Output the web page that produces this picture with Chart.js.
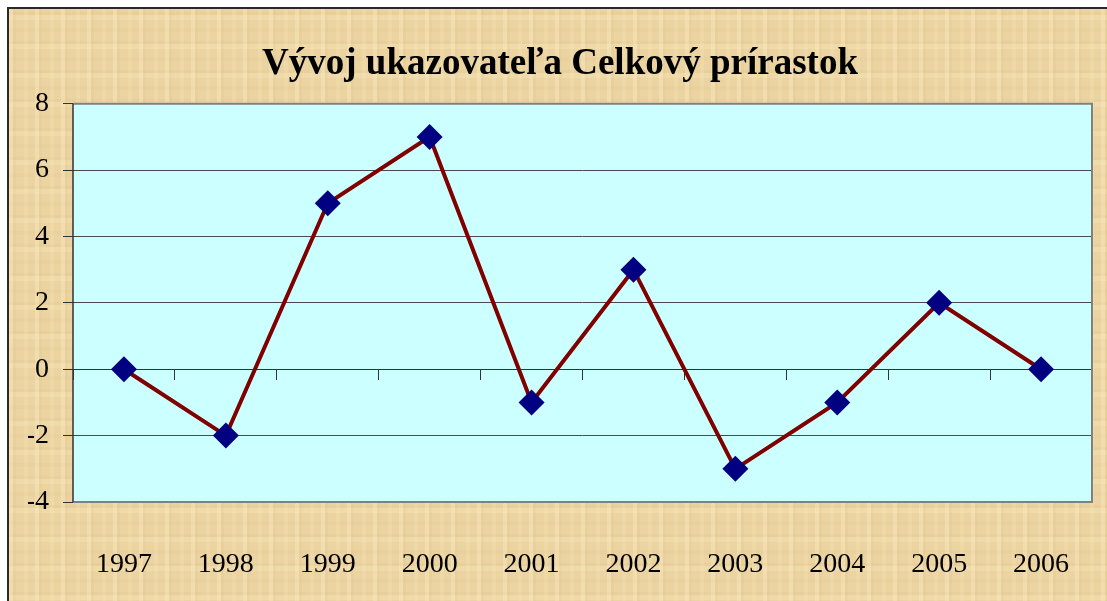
<!DOCTYPE html>
<html lang="sk">
<head>
    <meta charset="UTF-8">
    <title>Vývoj ukazovateľa Celkový prírastok</title>
    <script src="https://cdn.jsdelivr.net/npm/chart.js"></script>
    <style>
        body {
            margin: 0;
            background: #ffffff;
        }
        .wrap {
            position: relative;
            width: 1107px;
            height: 601px;
            overflow: hidden;
        }
        .paper {
            position: absolute;
            left: 7px;
            top: 7px;
            width: 1120px;
            height: 620px;
            border-left: 2px solid #2a2a2a;
            border-top: 2px solid #2a2a2a;
            background-color: #ebd4a2;
            background-image:
                repeating-linear-gradient(90deg, rgba(255,240,200,0.3) 0 4px, rgba(200,160,100,0.08) 4px 7px, transparent 7px 15px, rgba(255,236,190,0.18) 15px 19px, transparent 19px 26px),
                repeating-linear-gradient(0deg, rgba(255,240,200,0.2) 0 5px, rgba(190,150,90,0.07) 5px 8px, transparent 8px 17px, rgba(210,170,110,0.07) 17px 21px, transparent 21px 29px);
        }
        canvas {
            position: absolute;
            left: 0;
            top: 0;
        }
    </style>
</head>
<body>
    <div class="wrap">
        <div class="paper"></div>
        <canvas id="chart" width="1107" height="601"></canvas>
    </div>

    <script>
        const years = ['1997', '1998', '1999', '2000', '2001', '2002', '2003', '2004', '2005', '2006'];
        const prirastok = [0, -2, 5, 7, -1, 3, -3, -1, 2, 0];
        const yMin = -4;
        const yMax = 8;
        const yStep = 2;

        const serif = "'Liberation Serif', 'DejaVu Serif', serif";

        // cyan plot area + gray frame like the old Excel chart
        const plotArea = {
            id: 'plotArea',
            beforeDraw(chart) {
                const a = chart.chartArea;
                const ctx = chart.ctx;
                ctx.save();
                ctx.fillStyle = '#ccffff';
                ctx.fillRect(a.left, a.top, a.right - a.left, a.bottom - a.top);
                ctx.restore();
            },
            beforeDatasetsDraw(chart) {
                const a = chart.chartArea;
                const ctx = chart.ctx;
                ctx.save();
                ctx.strokeStyle = '#808080';
                ctx.lineWidth = 2;
                ctx.beginPath();
                ctx.moveTo(a.left, a.top);
                ctx.lineTo(a.right, a.top);
                ctx.lineTo(a.right, a.bottom);
                ctx.lineTo(a.left, a.bottom);
                ctx.stroke();
                ctx.strokeStyle = '#333333';
                ctx.lineWidth = 1.5;
                ctx.beginPath();
                ctx.moveTo(a.left, a.top);
                ctx.lineTo(a.left, a.bottom);
                ctx.stroke();
                ctx.restore();
            }
        };

        function noSidePadding(scale) {
            scale.paddingLeft = 0;
            scale.paddingRight = 0;
        }

        new Chart(document.getElementById('chart'), {
            type: 'line',
            data: {
                labels: years,
                datasets: [{
                    label: 'Celkový prírastok',
                    data: prirastok,
                    xAxisID: 'x',
                    borderColor: '#800000',
                    borderWidth: 4,
                    tension: 0,
                    pointStyle: 'rectRot',
                    pointRadius: 13,
                    pointHoverRadius: 13,
                    pointBackgroundColor: '#000080',
                    pointBorderColor: '#000080',
                    pointBorderWidth: 0
                }]
            },
            options: {
                responsive: false,
                animation: false,
                layout: {
                    padding: { left: 28, right: 15, top: 0, bottom: 0 }
                },
                plugins: {
                    legend: { display: false },
                    tooltip: { enabled: false },
                    title: {
                        display: true,
                        text: 'Vývoj ukazovateľa Celkový prírastok',
                        color: '#000000',
                        font: { family: serif, size: 37, weight: 'bold', lineHeight: 1.1 },
                        padding: { top: 44, bottom: 19 }
                    }
                },
                scales: {
                    y: {
                        min: yMin,
                        max: yMax,
                        afterFit(scale) { scale.width = 45; },
                        ticks: {
                            stepSize: yStep,
                            color: '#000000',
                            padding: 14,
                            font: { family: serif, size: 28 }
                        },
                        grid: {
                            color: '#4a4a4a',
                            lineWidth: 1,
                            tickLength: 10,
                            tickColor: '#333333'
                        },
                        border: { display: false }
                    },
                    x: {
                        type: 'category',
                        position: { y: 0 },
                        offset: true,
                        afterFit: noSidePadding,
                        ticks: { display: false },
                        grid: {
                            offset: true,
                            drawOnChartArea: false,
                            drawTicks: true,
                            tickLength: 10,
                            color: '#333333'
                        },
                        border: { display: true, color: '#333333', width: 1 }
                    },
                    x2: {
                        type: 'category',
                        position: 'bottom',
                        offset: true,
                        afterFit(scale) {
                            scale.height = 99;
                            noSidePadding(scale);
                        },
                        ticks: {
                            color: '#000000',
                            padding: 38,
                            maxRotation: 0,
                            autoSkip: false,
                            font: { family: serif, size: 28 }
                        },
                        grid: { display: false },
                        border: { display: false }
                    }
                }
            },
            plugins: [plotArea]
        });
    </script>
</body>
</html>
